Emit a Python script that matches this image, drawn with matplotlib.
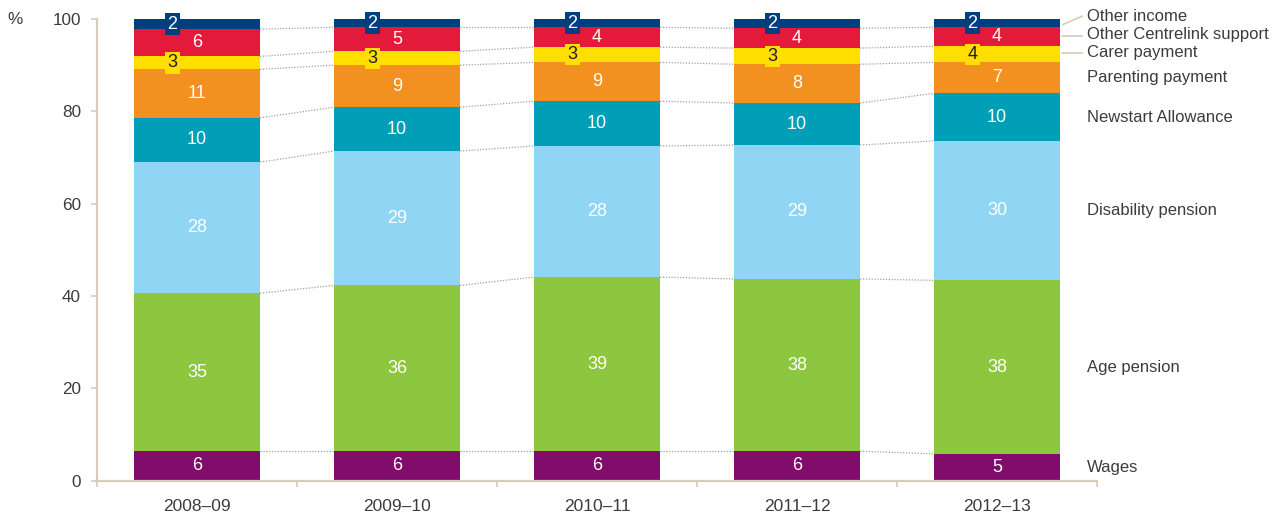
import matplotlib
matplotlib.use("Agg")
import matplotlib.pyplot as plt
import numpy as np

plt.rcParams['font.family'] = ['Liberation Sans', 'DejaVu Sans']

years = ["2008–09", "2009–10", "2010–11", "2011–12", "2012–13"]
series = ["Wages", "Age pension", "Disability pension", "Newstart Allowance",
          "Parenting payment", "Carer payment", "Other Centrelink support", "Other income"]

# segment heights (%)
wages       = [6.4, 6.4, 6.4, 6.4, 5.8]
age_pension = [34.2, 35.9, 37.7, 37.3, 37.6]
disability  = [28.4, 29.1, 28.4, 29.0, 30.2]
newstart    = [9.6, 9.5, 9.7, 9.1, 10.3]
parenting   = [10.5, 9.1, 8.4, 8.4, 6.7]
carer       = [2.8, 3.0, 3.3, 3.5, 3.5]
other_cl    = [5.9, 5.2, 4.3, 4.3, 4.1]
other_inc   = [2.2, 1.8, 1.8, 2.0, 1.8]

# published (rounded) labels
lab_wages       = [6, 6, 6, 6, 5]
lab_age         = [35, 36, 39, 38, 38]
lab_disability  = [28, 29, 28, 29, 30]
lab_newstart    = [10, 10, 10, 10, 10]
lab_parenting   = [11, 9, 9, 8, 7]
lab_carer       = [3, 3, 3, 3, 4]
lab_other_cl    = [6, 5, 4, 4, 4]
lab_other_inc   = [2, 2, 2, 2, 2]

colors = ["#810c6c", "#8dc63f", "#91d5f4", "#009fb8",
          "#f39120", "#ffde00", "#e31a3a", "#003f7f"]

data = [wages, age_pension, disability, newstart, parenting, carer, other_cl, other_inc]
labels = [lab_wages, lab_age, lab_disability, lab_newstart, lab_parenting,
          lab_carer, lab_other_cl, lab_other_inc]

fig = plt.figure(figsize=(12.84, 5.17), dpi=100)
ax = fig.add_axes([97/1284, (517-480.7)/517, 1000/1284, (480.7-19)/517])

x = np.arange(len(years))
bw = 0.63
bottom = np.zeros(len(years))
tops = []
text_col = "#3c3c3c"
bl_size = 13
for i, (vals, labs, c) in enumerate(zip(data, labels, colors)):
    vals = np.array(vals, dtype=float)
    ax.bar(x, vals, bw, bottom=bottom, color=c, linewidth=0, zorder=2)
    mids = bottom + vals / 2
    for j in range(len(years)):
        if i == 7:
            ax.text(x[j] - 0.1225, mids[j], str(labs[j]), ha='center', va='center',
                    color='white', fontsize=bl_size, zorder=4,
                    bbox=dict(boxstyle='square,pad=0.12', fc=c, ec='none'))
        elif i == 5:
            ax.text(x[j] - 0.1225, mids[j], str(labs[j]), ha='center', va='center',
                    color='#231f20', fontsize=bl_size, zorder=4,
                    bbox=dict(boxstyle='square,pad=0.12', fc=c, ec='none'))
        else:
            ax.text(x[j], mids[j], str(labs[j]), ha='center', va='center',
                    color='white', fontsize=bl_size, zorder=4)
    bottom = bottom + vals
    tops.append(bottom.copy())

# dotted connectors between bars
for k, t in enumerate(tops[:-1]):
    for j in range(len(years) - 1):
        ax.plot([x[j] + bw/2, x[j+1] - bw/2], [t[j], t[j+1]],
                color='#a0a0a0', lw=0.9, linestyle=(0, (1, 1.3)), zorder=1)

# right-hand series labels
lx = 4.45
rl_size = 12
last_bottom = 0.0
for i in range(5):
    v = data[i][-1]
    ax.text(lx, last_bottom + v / 2, series[i], ha='left', va='center',
            fontsize=rl_size, color=text_col, clip_on=False)
    last_bottom += v
ax.text(lx, 92.7, series[5], ha='left', va='center', fontsize=rl_size, color=text_col, clip_on=False)
ax.text(lx, 96.6, series[6], ha='left', va='center', fontsize=rl_size, color=text_col, clip_on=False)
ax.text(lx, 100.6, series[7], ha='left', va='center', fontsize=rl_size, color=text_col, clip_on=False)
lead = '#d6cdb9'
ax.plot([4.325, 4.425], [92.6, 92.6], color=lead, lw=1.2, clip_on=False)
ax.plot([4.325, 4.425], [96.4, 96.4], color=lead, lw=1.2, clip_on=False)
ax.plot([4.33, 4.425], [98.8, 100.6], color=lead, lw=1.2, clip_on=False)

ax.set_xlim(-0.5, 4.5)
ax.set_ylim(0, 100)
for s in ['top', 'right']:
    ax.spines[s].set_visible(False)
for s in ['left', 'bottom']:
    ax.spines[s].set_color('#d6cdb9')
    ax.spines[s].set_linewidth(1.6)

ax.set_yticks([0, 20, 40, 60, 80, 100])
ax.tick_params(axis='y', length=4.5, width=1.2, color='#d6cdb9', pad=7,
               labelsize=12.3, labelcolor=text_col)
ax.set_xticks(np.arange(-0.5, 5.0, 1.0))
ax.set_xticklabels([])
ax.tick_params(axis='x', which='major', length=4.5, width=1.2, color='#d6cdb9')
ax.set_xticks(x, minor=True)
ax.set_xticklabels(years, minor=True)
ax.tick_params(axis='x', which='minor', length=0, pad=13, labelsize=12.5, labelcolor=text_col)

fig.text(15/1284, 1 - 19/517, "%", ha='center', va='center', fontsize=12.3, color=text_col)

fig.savefig("out.png", dpi=100)
